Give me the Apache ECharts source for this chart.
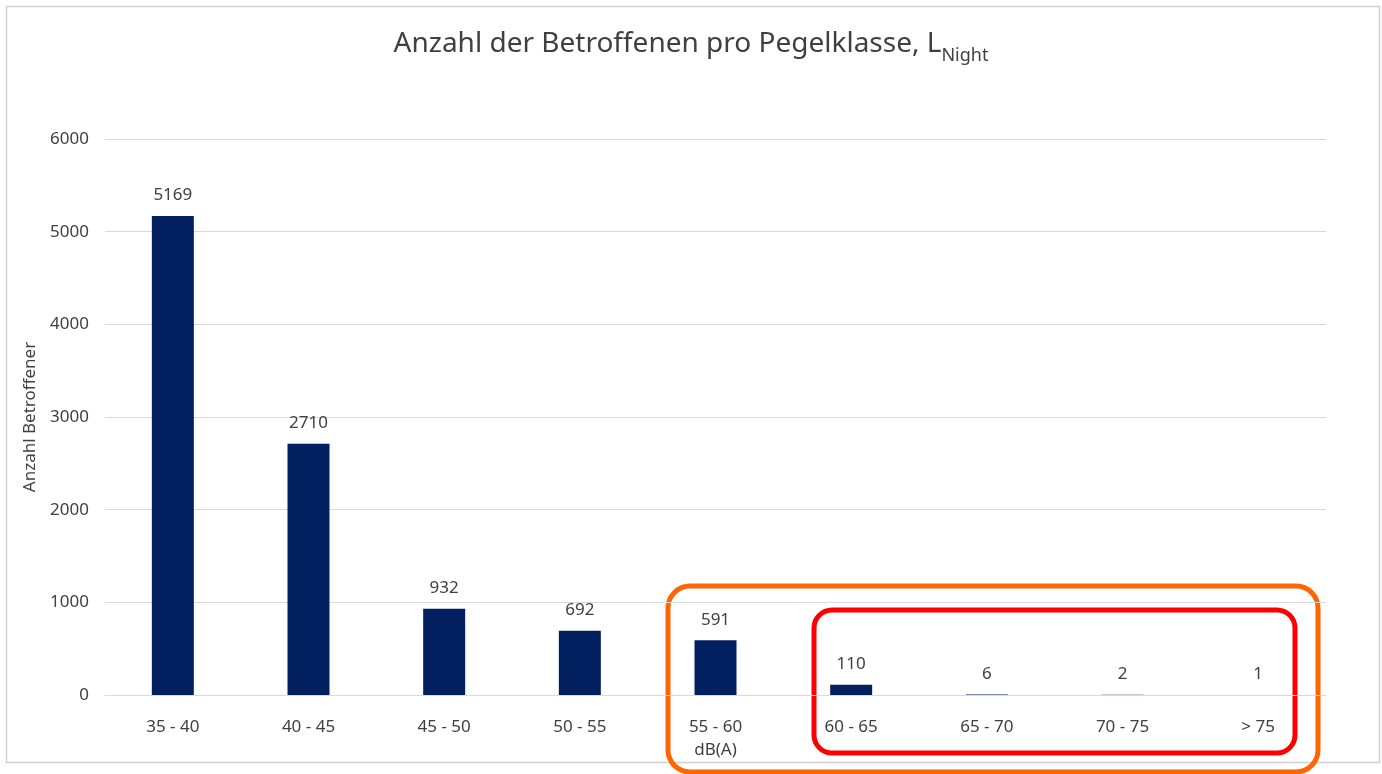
<!DOCTYPE html>
<html>
<head>
<meta charset="utf-8">
<script src="https://cdn.jsdelivr.net/npm/echarts@6/dist/echarts.min.js"></script>
<style>
html, body { margin: 0; padding: 0; background: #fff; }
#chart { width: 1382px; height: 774px; }
</style>
</head>
<body>
<div id="chart"></div>
<script>
// Pegelklassen in dB(A)
const categories = ['35 - 40', '40 - 45', '45 - 50', '50 - 55', '55 - 60', '60 - 65', '65 - 70', '70 - 75', '> 75']
const betroffene = [5169, 2710, 932, 692, 591, 110, 6, 2, 1]
const yTicks = [0, 1000, 2000, 3000, 4000, 5000, 6000]

const font = '"Noto Sans", "Open Sans", sans-serif'
const textColor = '#404040'

const myChart = echarts.init(document.getElementById('chart'))

myChart.setOption({
    animation: false,
    textStyle: { fontFamily: font },
    title: {
        text: '{main|Anzahl der Betroffenen pro Pegelklasse, L}{sub|Night}',
        left: 'center',
        top: 19,
        textStyle: {
            fontWeight: 'normal',
            rich: {
                main: { fontSize: 28, color: textColor, fontFamily: font, fontWeight: 'normal', verticalAlign: 'bottom', lineHeight: 34 },
                sub: { fontSize: 18, color: textColor, fontFamily: font, fontWeight: 'normal', verticalAlign: 'bottom', lineHeight: 24, padding: [0, 0, -7, 0] }
            }
        }
    },
    grid: {
        left: 105,
        right: 56,
        top: 139,
        bottom: 79
    },
    xAxis: {
        type: 'category',
        data: categories,
        name: 'dB(A)',
        nameLocation: 'middle',
        nameGap: 47,
        nameTextStyle: { color: textColor, fontSize: 17 },
        axisLine: { lineStyle: { color: '#d9d9d9' } },
        axisTick: { show: false },
        axisLabel: { color: textColor, fontSize: 17, margin: 24 }
    },
    yAxis: {
        type: 'value',
        min: yTicks[0],
        max: yTicks[yTicks.length - 1],
        interval: 1000,
        name: 'Anzahl Betroffener',
        nameLocation: 'middle',
        nameGap: 66,
        nameTextStyle: { color: textColor, fontSize: 17 },
        axisLine: { show: false },
        axisTick: { show: false },
        axisLabel: {
            color: textColor,
            fontSize: 17,
            margin: 16,
            formatter: function (v) {
                return String(v)
            }
        },
        splitLine: { lineStyle: { color: '#d9d9d9' } }
    },
    series: [{
        type: 'bar',
        data: betroffene,
        barWidth: 42,
        itemStyle: { color: '#022060' },
        label: {
            show: true,
            position: 'top',
            distance: 12,
            color: textColor,
            fontSize: 17
        }
    }],
    graphic: [
        {
            type: 'rect',
            shape: { x: 6.5, y: 6.5, width: 1373, height: 756 },
            style: { fill: 'none', stroke: '#d0d0d0', lineWidth: 1.5 },
            silent: true
        },
        {
            type: 'rect',
            shape: { x: 668, y: 586, width: 650, height: 186, r: 22 },
            style: { fill: 'none', stroke: '#ff6600', lineWidth: 5 },
            silent: true
        },
        {
            type: 'rect',
            shape: { x: 814, y: 610, width: 481, height: 143, r: 18 },
            style: { fill: 'none', stroke: '#ff0000', lineWidth: 5 },
            silent: true
        }
    ]
})
</script>
</body>
</html>
